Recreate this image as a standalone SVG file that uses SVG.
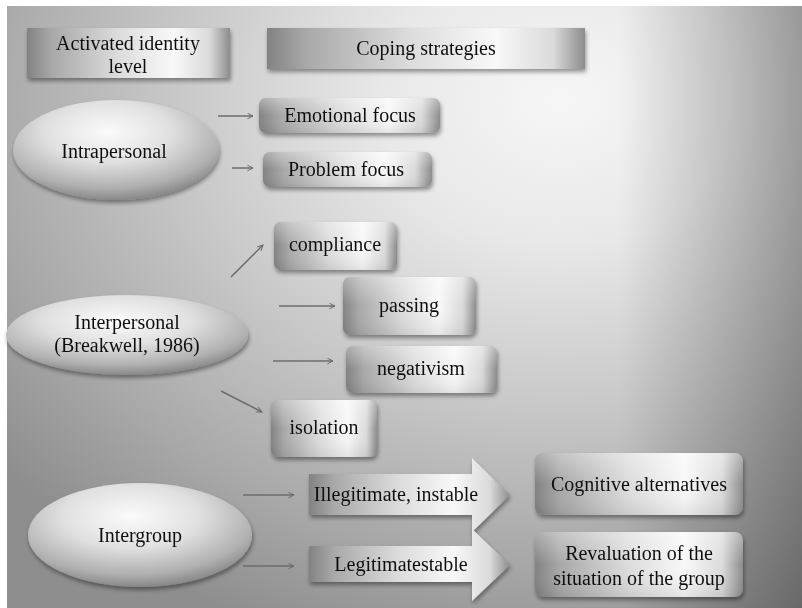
<svg xmlns="http://www.w3.org/2000/svg" width="802" height="608" viewBox="0 0 802 608">
  <defs>
    <style>
      .lbl { font-family: "Liberation Serif", "Times New Roman", serif; font-size: 20px; fill: #111111; text-anchor: middle; }
      .conn { stroke: #6c6c6c; stroke-width: 1.5; fill: none; marker-end: url(#tip); }
    </style>
    <!-- page backdrop: bright spot upper middle, darker toward the lower left -->
    <radialGradient id="bg" gradientUnits="userSpaceOnUse" cx="560" cy="100" r="720" gradientTransform="translate(560 100) scale(1 0.8) translate(-560 -100)">
      <stop offset="0" stop-color="#f6f6f6"/>
      <stop offset="0.25" stop-color="#e8e8e8"/>
      <stop offset="0.55" stop-color="#c6c6c6"/>
      <stop offset="0.8" stop-color="#a8a8a8"/>
      <stop offset="1" stop-color="#8e8e8e"/>
    </radialGradient>
    <linearGradient id="edge" x1="0" y1="0" x2="1" y2="0">
      <stop offset="0" stop-color="#000" stop-opacity="0"/>
      <stop offset="1" stop-color="#000" stop-opacity="0.3"/>
    </linearGradient>
    <!-- brushed metal fill used by headers, boxes and block arrows -->
    <linearGradient id="metal" x1="0" y1="0" x2="1" y2="0">
      <stop offset="0" stop-color="#828282"/>
      <stop offset="0.12" stop-color="#a8a8a8"/>
      <stop offset="0.45" stop-color="#dcdcdc"/>
      <stop offset="0.72" stop-color="#f8f8f8"/>
      <stop offset="0.9" stop-color="#dadada"/>
      <stop offset="1" stop-color="#8c8c8c"/>
    </linearGradient>
    <linearGradient id="gloss" x1="0" y1="0" x2="0" y2="1">
      <stop offset="0" stop-color="#fff" stop-opacity="0.35"/>
      <stop offset="0.5" stop-color="#fff" stop-opacity="0"/>
      <stop offset="1" stop-color="#000" stop-opacity="0.08"/>
    </linearGradient>
    <radialGradient id="egg" cx="0.46" cy="0.32" r="0.68">
      <stop offset="0" stop-color="#fbfbfb"/>
      <stop offset="0.45" stop-color="#e0e0e0"/>
      <stop offset="0.82" stop-color="#b0b0b0"/>
      <stop offset="1" stop-color="#888888"/>
    </radialGradient>
    <filter id="shade" x="-10%" y="-20%" width="125%" height="150%">
      <feDropShadow dx="1" dy="3" stdDeviation="2" flood-color="#000" flood-opacity="0.4"/>
    </filter>
    <marker id="tip" viewBox="0 0 10 10" refX="9" refY="5" markerWidth="7" markerHeight="7" markerUnits="userSpaceOnUse" orient="auto">
      <path d="M1,1 L9,5 L1,9" fill="none" stroke="#6c6c6c" stroke-width="1.4"/>
    </marker>
  </defs>

  <rect x="0" y="0" width="802" height="608" fill="#ffffff"/>
  <rect x="7" y="6" width="795" height="602" fill="url(#bg)"/>
  <rect x="620" y="6" width="182" height="602" fill="url(#edge)"/>

  <!-- column headers -->
  <g id="hdr-level" filter="url(#shade)">
    <rect x="27" y="28" width="203" height="50" fill="url(#metal)"/>
    <text class="lbl" x="128" y="50">Activated identity</text>
    <text class="lbl" x="128" y="73">level</text>
  </g>
  <g id="hdr-coping" filter="url(#shade)">
    <rect x="267" y="28" width="318" height="41" fill="url(#metal)"/>
    <text class="lbl" x="426" y="55">Coping strategies</text>
  </g>

  <!-- identity levels -->
  <g id="intrapersonal" filter="url(#shade)">
    <ellipse cx="116" cy="150" rx="103" ry="50" fill="url(#egg)"/>
    <text class="lbl" x="114" y="158">Intrapersonal</text>
  </g>
  <g id="interpersonal" filter="url(#shade)">
    <ellipse cx="127" cy="335" rx="121" ry="40" fill="url(#egg)"/>
    <text class="lbl" x="127" y="329">Interpersonal</text>
    <text class="lbl" x="127" y="352">(Breakwell, 1986)</text>
  </g>
  <g id="intergroup" filter="url(#shade)">
    <ellipse cx="140" cy="535" rx="112" ry="52" fill="url(#egg)"/>
    <text class="lbl" x="140" y="542">Intergroup</text>
  </g>

  <!-- coping strategies -->
  <g id="emotional" filter="url(#shade)">
    <rect x="259" y="98" width="181" height="35" rx="7" fill="url(#metal)"/>
    <rect x="259" y="98" width="181" height="35" rx="7" fill="url(#gloss)"/>
    <text class="lbl" x="350" y="122">Emotional focus</text>
  </g>
  <g id="problem" filter="url(#shade)">
    <rect x="263" y="152" width="169" height="35" rx="7" fill="url(#metal)"/>
    <rect x="263" y="152" width="169" height="35" rx="7" fill="url(#gloss)"/>
    <text class="lbl" x="346" y="176">Problem focus</text>
  </g>
  <g id="compliance" filter="url(#shade)">
    <rect x="274" y="222" width="123" height="48" rx="7" fill="url(#metal)"/>
    <rect x="274" y="222" width="123" height="48" rx="7" fill="url(#gloss)"/>
    <text class="lbl" x="335" y="251">compliance</text>
  </g>
  <g id="passing" filter="url(#shade)">
    <rect x="343" y="277" width="133" height="58" rx="7" fill="url(#metal)"/>
    <rect x="343" y="277" width="133" height="58" rx="7" fill="url(#gloss)"/>
    <text class="lbl" x="409" y="312">passing</text>
  </g>
  <g id="negativism" filter="url(#shade)">
    <rect x="346" y="346" width="151" height="47" rx="7" fill="url(#metal)"/>
    <rect x="346" y="346" width="151" height="47" rx="7" fill="url(#gloss)"/>
    <text class="lbl" x="421" y="375">negativism</text>
  </g>
  <g id="isolation" filter="url(#shade)">
    <rect x="271" y="400" width="106" height="57" rx="7" fill="url(#metal)"/>
    <rect x="271" y="400" width="106" height="57" rx="7" fill="url(#gloss)"/>
    <text class="lbl" x="324" y="434">isolation</text>
  </g>

  <!-- intergroup conditions as block arrows -->
  <g id="illegitimate" filter="url(#shade)">
    <path d="M309,474 H472 V458 L510,495 L472,532 V515 H309 Z" fill="url(#metal)"/>
    <text class="lbl" x="396" y="501">Illegitimate, instable</text>
  </g>
  <g id="legitimate" filter="url(#shade)">
    <path d="M309,546 H472 V529 L510,565 L472,601 V582 H309 Z" fill="url(#metal)"/>
    <text class="lbl" x="401" y="571">Legitimatestable</text>
  </g>

  <g id="cognitive" filter="url(#shade)">
    <rect x="535" y="453" width="208" height="62" rx="8" fill="url(#metal)"/>
    <rect x="535" y="453" width="208" height="62" rx="8" fill="url(#gloss)"/>
    <text class="lbl" x="639" y="491">Cognitive alternatives</text>
  </g>
  <g id="revaluation" filter="url(#shade)">
    <rect x="535" y="532" width="208" height="65" rx="8" fill="url(#metal)"/>
    <rect x="535" y="532" width="208" height="65" rx="8" fill="url(#gloss)"/>
    <text class="lbl" x="639" y="560">Revaluation of the</text>
    <text class="lbl" x="639" y="585">situation of the group</text>
  </g>

  <!-- connectors -->
  <g id="connectors">
    <line class="conn" x1="218" y1="116" x2="253" y2="116"/>
    <line class="conn" x1="232" y1="168" x2="253" y2="168"/>
    <line class="conn" x1="231" y1="277" x2="263" y2="245"/>
    <line class="conn" x1="279" y1="306" x2="335" y2="306"/>
    <line class="conn" x1="273" y1="361" x2="333" y2="361"/>
    <line class="conn" x1="221" y1="391" x2="262" y2="412"/>
    <line class="conn" x1="243" y1="495" x2="294" y2="495"/>
    <line class="conn" x1="243" y1="566" x2="294" y2="566"/>
  </g>
</svg>
